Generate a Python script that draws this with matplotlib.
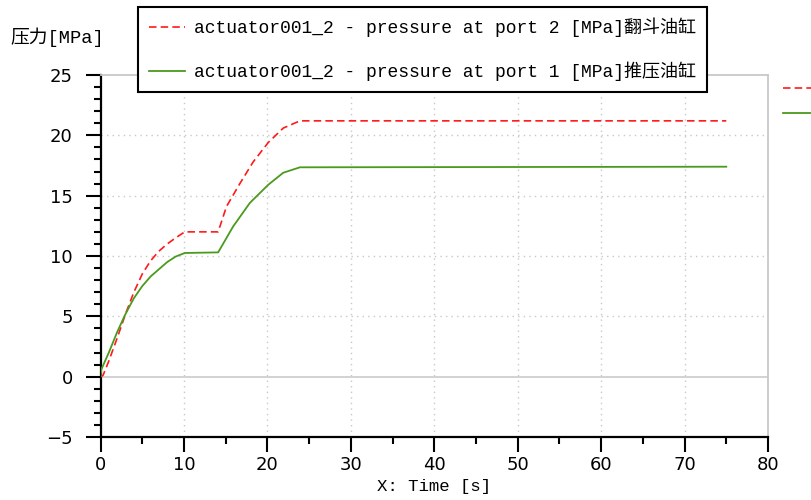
import numpy as np
import matplotlib
matplotlib.use("Agg")
import matplotlib.pyplot as plt
from matplotlib.ticker import MultipleLocator

# time [s] and pressure [MPa]
t_port2 = [0, 0.3, 1.0, 2.0, 3.0, 4.0, 5.0, 6.0, 7.0, 8.0, 9.0, 10.1,
           14.1, 15.1, 16.7, 18.3, 20.1, 21.9, 23.9, 75]
p_port2 = [0, 0.1, 1.3, 3.2, 5.2, 7.0, 8.5, 9.6, 10.4, 11.0, 11.5, 12.0,
           12.0, 14.1, 16.0, 17.8, 19.4, 20.6, 21.2, 21.2]

t_port1 = [0, 0.1, 1.0, 2.0, 3.0, 4.0, 5.0, 6.0, 7.0, 8.0, 9.0, 10.1,
           14.1, 15.9, 17.9, 20.1, 21.9, 23.9, 75]
p_port1 = [0, 0.6, 2.0, 3.7, 5.2, 6.5, 7.5, 8.3, 8.9, 9.5, 9.95, 10.25,
           10.3, 12.45, 14.4, 15.9, 16.9, 17.35, 17.4]

label_port2 = "actuator001_2 - pressure at port 2 [MPa]翻斗油缸"
label_port1 = "actuator001_2 - pressure at port 1 [MPa]推压油缸"

x_ticks = list(range(0, 81, 10))
y_ticks = list(range(-5, 26, 5))

mono = ["Liberation Mono", "Noto Sans CJK SC", "DejaVu Sans"]
narrow = ["Liberation Sans Narrow", "DejaVu Sans"]

fig = plt.figure(figsize=(8.11, 5.0), dpi=100)
ax = fig.add_axes([100.5 / 811, 1 - 437 / 500, (768 - 100.5) / 811, (437 - 75) / 500])

red, = ax.plot(t_port2, p_port2, color="#ff1a1a", lw=1.2, dashes=(4.5, 2.5),
               label=label_port2, zorder=3)
green, = ax.plot(t_port1, p_port1, color="#4a9a1e", lw=1.3,
                 label=label_port1, zorder=3)

ax.set_xlim(0, 80)
ax.set_ylim(-5, 25)
ax.set_xticks(x_ticks)
ax.set_yticks(y_ticks)
ax.xaxis.set_minor_locator(MultipleLocator(5))
ax.yaxis.set_minor_locator(MultipleLocator(1))

# dotted grid, solid light line at zero
for x in x_ticks[1:-1]:
    ax.axvline(x, color="#c8c8c8", lw=1.0, ls=(0, (1, 3)), zorder=1)
for y in [5, 10, 15, 20]:
    ax.axhline(y, color="#c8c8c8", lw=1.0, ls=(0, (1, 3)), zorder=1)
ax.axhline(0, color="#cfcfcf", lw=1.3, zorder=1)

for s in ["left", "bottom"]:
    ax.spines[s].set_linewidth(1.6)
    ax.spines[s].set_color("black")
for s in ["top", "right"]:
    ax.spines[s].set_linewidth(1.3)
    ax.spines[s].set_color("#c8c8c8")

ax.tick_params(axis="y", which="major", direction="out", length=11, width=1.5, pad=9)
ax.tick_params(axis="y", which="minor", direction="out", length=5, width=1.5)
ax.tick_params(axis="x", which="major", direction="out", length=11, width=1.5, pad=3)
ax.tick_params(axis="x", which="minor", direction="out", length=5, width=1.5)
for lab in ax.get_xticklabels() + ax.get_yticklabels():
    lab.set_family(narrow)
    lab.set_fontsize(13)

ax.set_xlabel("X: Time [s]", family=mono, fontsize=12.5, labelpad=3)
fig.text(10 / 811, 1 - 37 / 500, "压力[MPa]", family=mono,
         fontsize=13.5, va="center", ha="left")

leg = ax.legend(handles=[red, green], loc="upper left",
                bbox_to_anchor=(138 / 811, 1 - 7 / 500), bbox_transform=fig.transFigure,
                prop={"family": mono, "size": 13}, frameon=True, fancybox=False,
                edgecolor="black", framealpha=1, borderpad=0.6, labelspacing=1.35,
                handlelength=2.0, handletextpad=0.5, borderaxespad=0)
leg.get_frame().set_linewidth(1.5)

# second legend, its labels lie beyond the right edge of the picture
leg2 = fig.legend(handles=[red, green], labels=["", ""], loc="upper left",
                  bbox_to_anchor=(776 / 811, 1 - 75 / 500),
                  prop={"family": mono, "size": 12.5}, frameon=False,
                  labelspacing=0.55, handlelength=3.0, borderaxespad=0)

fig.savefig("out.png", dpi=100)
